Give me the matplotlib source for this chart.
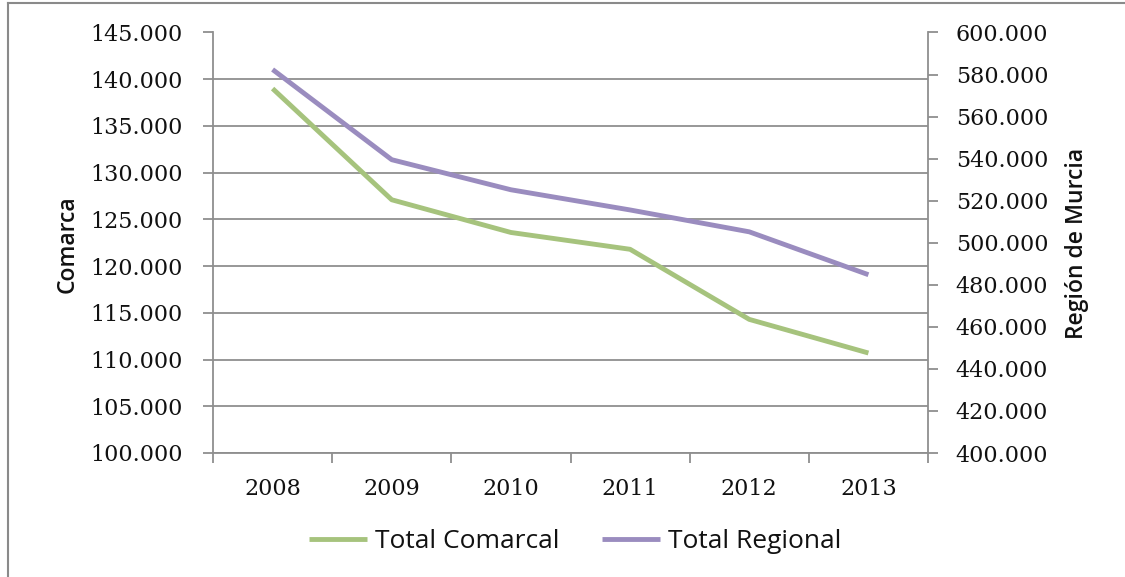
import matplotlib
matplotlib.use("Agg")
import matplotlib.pyplot as plt
from matplotlib.lines import Line2D
from matplotlib.ticker import FuncFormatter, MultipleLocator

years = ["2008", "2009", "2010", "2011", "2012", "2013"]
total_comarcal = [139000, 127100, 123600, 121800, 114300, 110700]
total_regional = [582400, 539500, 525200, 515600, 505200, 484800]

green = "#a6c37d"
purple = "#9a8cbf"
grid_c = "#8f8f8f"
txt_c = "#111111"

fig = plt.figure(figsize=(11.25, 5.77), dpi=100)
ax = fig.add_axes([213/1125, 1-453/577, (928-213)/1125, (453-32.5)/577])
ax2 = ax.twinx()

x = list(range(len(years)))
l1, = ax.plot(x, total_comarcal, color=green, lw=3.5, solid_capstyle="butt", label="Total Comarcal")
l2, = ax2.plot(x, total_regional, color=purple, lw=3.5, solid_capstyle="butt", label="Total Regional")

fmt = FuncFormatter(lambda v, p: f"{v:,.0f}".replace(",", "."))
ax.set_ylim(100000, 145000)
ax.yaxis.set_major_locator(MultipleLocator(5000))
ax.yaxis.set_major_formatter(fmt)
ax2.set_ylim(400000, 600000)
ax2.yaxis.set_major_locator(MultipleLocator(20000))
ax2.yaxis.set_major_formatter(fmt)

ax.set_xlim(-0.5, len(years) - 0.5)
ax.set_xticks(x)
ax.set_xticklabels(years)
ax.set_xticks([i - 0.5 for i in range(len(years) + 1)], minor=True)

ax.grid(axis="y", color=grid_c, lw=1.3)
ax.set_axisbelow(True)

for a in (ax, ax2):
    for s in a.spines.values():
        s.set_visible(False)
for a, side in ((ax, "left"), (ax, "bottom"), (ax2, "right")):
    a.spines[side].set_visible(True)
    a.spines[side].set_color(grid_c)
    a.spines[side].set_linewidth(1.3)

ax.tick_params(axis="y", which="major", length=7, width=1.3, color=grid_c, pad=15, labelcolor=txt_c)
ax.tick_params(axis="x", which="major", length=0, pad=18, labelcolor=txt_c)
ax.tick_params(axis="x", which="minor", length=7, width=1.3, color=grid_c)
ax2.tick_params(axis="y", which="major", length=7, width=1.3, color=grid_c, pad=13, labelcolor=txt_c)
for lab in ax.get_yticklabels() + ax.get_xticklabels() + ax2.get_yticklabels():
    lab.set_fontfamily("DejaVu Serif")
    lab.set_fontsize(16)

fig.text(68/1125, 1-244/577, "Comarca", rotation=90, ha="center", va="center",
         family="Open Sans", size=16.5, color=txt_c, weight="semibold")
fig.text(1077/1125, 1-243/577, "Región de Murcia", rotation=90, ha="center", va="center",
         family="Open Sans", size=16.5, color=txt_c, weight="semibold")

leg = fig.legend(handles=[l1, l2], loc="center", bbox_to_anchor=(575/1125, 1-542/577),
                 ncol=2, frameon=False, prop=dict(family="Open Sans", size=19),
                 handlelength=2.2, handletextpad=0.3, columnspacing=1.6)
for t in leg.get_texts():
    t.set_color(txt_c)

# outer chart border (left and top edges visible)
fig.add_artist(Line2D([8/1125, 8/1125], [0, 1-3/577], transform=fig.transFigure, color="#8a8a8a", lw=1.5))
fig.add_artist(Line2D([8/1125, 1], [1-3/577, 1-3/577], transform=fig.transFigure, color="#8a8a8a", lw=1.5))

fig.savefig("out.png", dpi=100)
